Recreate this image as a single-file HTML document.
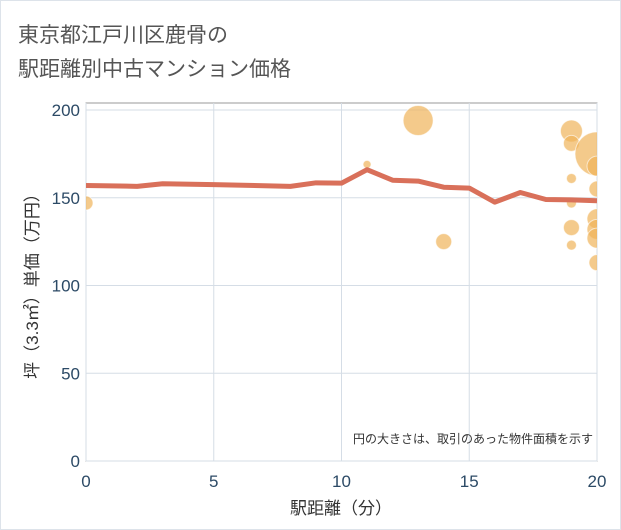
<!DOCTYPE html>
<html><head><meta charset="utf-8"><style>
body{margin:0;background:#fff;}
svg{display:block;font-family:"Liberation Sans","Noto Sans CJK JP",sans-serif;}
</style></head><body>
<svg width="621" height="530">
<rect x="0.5" y="0.5" width="620" height="529" fill="#fff" stroke="#dde3ea"/>
<text x="18" y="42" font-size="21" fill="#555">東京都江戸川区鹿骨の</text>
<text x="18" y="76" font-size="21" fill="#555">駅距離別中古マンション価格</text>
<defs><clipPath id="pc"><rect x="86" y="103" width="511" height="358"/></clipPath></defs>
<rect x="86" y="103" width="511" height="358" fill="#fff" stroke="#999"/>
<g id="grid"></g>
<g id="bubbles" clip-path="url(#pc)"></g>
<g id="line" clip-path="url(#pc)"></g>
<g id="ticks"></g>
<text x="341" y="514" font-size="17" fill="#333" text-anchor="middle">駅距離（分）</text>
<text transform="translate(38,282) rotate(-90)" font-size="17" fill="#333" text-anchor="middle">坪（3.3㎡）単価（万円）</text>
<text x="593" y="443" font-size="12" fill="#333" text-anchor="end">円の大きさは、取引のあった物件面積を示す</text>
</svg>
<script>
const xTicks=[0,5,10,15,20];
const yTicks=[0,50,100,150,200];
const lineX=[0,2,3,5,8,9,10,11,12,13,14,15,16,17,18,19,20];
const lineY=[157,156.5,158,157.5,156.5,158.5,158.3,166,160,159.5,156,155.5,147.5,153,149,148.8,148.3];
const bubX=[0,11,13,14,19,19,19,19,19,19,20,20,20,20,20,20,20];
const bubY=[147,169,194,125,188,181,161,147,133,123,175,168,155,138,132,127,113];
const bubR=[7,4,15,8,11,8,5,5,8,5,22,10,8,10,10,10,8];
const X=v=>86+v*25.55, Y=v=>461-v*1.755;
const NS="http://www.w3.org/2000/svg";
const mk=(t,a,p)=>{const e=document.createElementNS(NS,t);for(const k in a)e.setAttribute(k,a[k]);p.appendChild(e);return e;};
const g=document.getElementById('grid'),tk=document.getElementById('ticks');
xTicks.forEach(v=>{
 const l=mk('line',{x1:X(v),x2:X(v),y1:103,y2:461,stroke:'#d5dde6'},g);
 
 
 const t=mk('text',{x:X(v),y:487,'font-size':17,fill:'#2c4a66','text-anchor':'middle'},tk);t.textContent=v;
 
 
});
yTicks.forEach(v=>{
 const l=mk('line',{x1:86,x2:597,y1:Y(v),y2:Y(v),stroke:'#d5dde6'},g);
 
 
 const t=mk('text',{x:80,y:Y(v)+6,'font-size':17,fill:'#2c4a66','text-anchor':'end'},tk);t.textContent=v;
 
 
});
const b=document.getElementById('bubbles');
bubX.forEach((v,i)=>{
 const c=mk('circle',{cx:X(v),cy:Y(bubY[i]),r:bubR[i],fill:'rgba(240,180,90,0.7)',stroke:'rgba(255,255,255,0.6)'},b);
 
 
});
const p=mk('polyline',{points:lineX.map((v,i)=>X(v)+','+Y(lineY[i])).join(' '),fill:'none',stroke:'#d9705a','stroke-width':5,'stroke-linejoin':'round'},document.getElementById('line'));


</script>
</body></html>
